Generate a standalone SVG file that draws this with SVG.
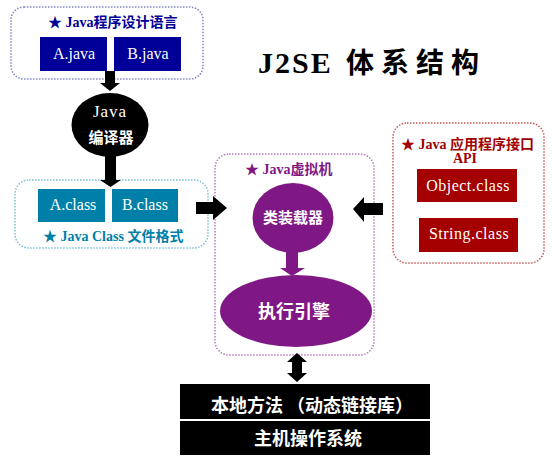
<svg xmlns="http://www.w3.org/2000/svg" width="554" height="467" viewBox="0 0 554 467">
<style>
.frame{fill:none;stroke-width:1.5;stroke-dasharray:1.5 1.5}
.lbl{font-family:"Liberation Serif","Noto Sans CJK SC",serif;font-weight:bold;font-size:14px}
.cls{font-family:"Liberation Serif",serif;font-size:16px;fill:#fff;text-anchor:middle}
.cjk{font-family:"Noto Sans CJK SC",sans-serif;font-weight:bold;fill:#fff;text-anchor:middle}
.arr{fill:#000}
</style>
<rect width="554" height="467" fill="#fff"/>
<g id="title">
<text x="258" y="73" font-family="Liberation Serif,serif" font-weight="bold" font-size="30" letter-spacing="2" fill="#000">J2SE</text>
<text x="346" y="73" font-family="Noto Sans CJK SC,sans-serif" font-weight="bold" font-size="28" letter-spacing="7" fill="#000">体系结构</text>
</g>
<g id="java-source">
<rect class="frame" x="11" y="7" width="192" height="72" rx="13" stroke="#8585cc"/>
<text class="lbl" x="48" y="27" fill="#000099">★ Java程序设计语言</text>
<rect x="40" y="37" width="67" height="34" fill="#000099"/>
<text class="cls" x="74" y="59">A.java</text>
<rect x="114" y="37" width="67" height="34" fill="#000099"/>
<text class="cls" x="148" y="59">B.java</text>
</g>
<g id="compiler">
<ellipse cx="110" cy="125" rx="38.5" ry="32" fill="#000"/>
<text x="110" y="117" font-family="Liberation Serif,serif" font-size="17" letter-spacing="1" fill="#fff" text-anchor="middle">Java</text>
<text class="cjk" x="111" y="143" font-size="15">编译器</text>
</g>
<g id="class-files">
<rect class="frame" x="15" y="180" width="193" height="68" rx="14" stroke="#7cc0d4"/>
<rect x="38" y="189" width="67" height="33" fill="#0080a8"/>
<text class="cls" x="73" y="210">A.class</text>
<rect x="112" y="189" width="66" height="33" fill="#0080a8"/>
<text class="cls" x="145" y="210">B.class</text>
<text class="lbl" x="43" y="241" fill="#0080a8">★ Java Class 文件格式</text>
</g>
<g id="jvm">
<rect class="frame" x="215" y="154" width="159" height="201" rx="14" stroke="#b77bbf"/>
<text class="lbl" x="245" y="174" fill="#7f1884">★ Java虚拟机</text>
</g>
<g id="class-loader">
<ellipse cx="293" cy="218" rx="40.5" ry="35" fill="#7f1884"/>
<text class="cjk" x="293" y="223" font-size="15">类装载器</text>
</g>
<g id="exec-engine">
<ellipse cx="296" cy="311" rx="76" ry="36" fill="#7f1884"/>
<text class="cjk" x="294" y="318" font-size="18">执行引擎</text>
</g>
<g id="api">
<rect class="frame" x="393" y="123" width="151" height="140" rx="14" stroke="#c85a5a"/>
<text class="lbl" x="401" y="149" fill="#a00000">★ Java 应用程序接口</text>
<text class="lbl" x="465" y="163" fill="#a00000" text-anchor="middle">API</text>
<rect x="417" y="169" width="100" height="33" fill="#a50000"/>
<text class="cls" x="468" y="191" letter-spacing="0.5">Object.class</text>
<rect x="419" y="218" width="99" height="34" fill="#a50000"/>
<text class="cls" x="469" y="239" letter-spacing="0.5">String.class</text>
</g>
<g id="native">
<rect x="180" y="384" width="250" height="35" fill="#000"/>
<text class="cjk" x="312" y="412" font-size="18">本地方法 （动态链接库）</text>
</g>
<g id="os">
<rect x="180" y="421" width="250" height="34" fill="#000"/>
<text class="cjk" x="308" y="445" font-size="18">主机操作系统</text>
</g>
<g id="connectors">
<polygon class="arr" points="105,71 115,71 115,83 120,83 110,91 100,83 105,83"/>
<polygon class="arr" points="105,156 116,156 116,180 121,180 110.5,187 100,180 105,180"/>
<polygon class="arr" points="196,202 213,202 213,196 227,208 213,220 213,214 196,214"/>
<polygon class="arr" points="383,203 364,203 364,197 353,209 364,222 364,215 383,215"/>
<polygon points="286,252 298,252 298,268 305,268 292,276 280,268 286,268" fill="#7f1884"/>
<polygon class="arr" points="297,353 307,362 302,362 302,373 307,373 297,382 287,373 292,373 292,362 287,362"/>
</g>
</svg>
